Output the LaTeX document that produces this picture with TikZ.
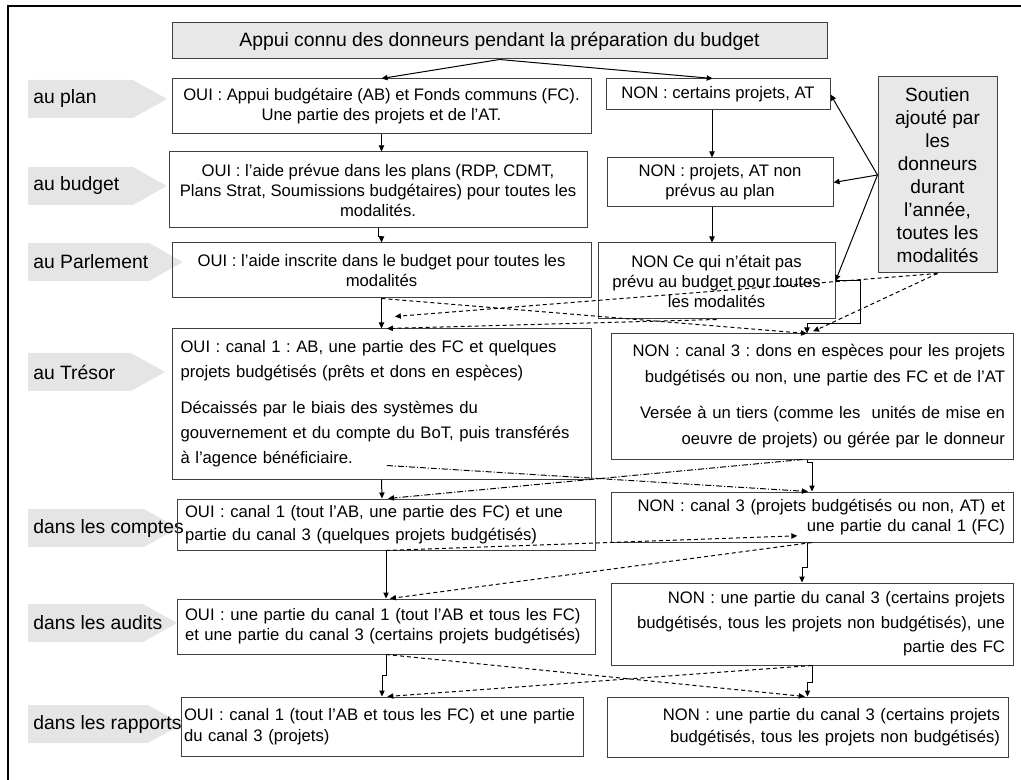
\documentclass[tikz,border=0pt]{standalone}
\usepackage{fontspec}
\setmainfont{Liberation Sans}
\usetikzlibrary{arrows.meta,positioning}
\frenchspacing

\begin{document}
\begin{tikzpicture}[
  x=0.75pt, y=-0.75pt,
  box/.style={rectangle, draw=black!75, line width=0.75pt, inner sep=0pt, align=center, font=\fontsize{12.5}{15}\selectfont},
  size/.style 2 args={minimum width=#1*0.75pt, minimum height=#2*0.75pt},
  grey box/.style={box, fill=black!9},
  oui/.style={box, align=left, text width=301.5pt},
  non/.style={box, align=right, text width=289.5pt},
  stage/.style={anchor=west, inner sep=0pt, font=\fontsize{14.5}{17}\selectfont},
  stage fill/.style={fill=black!10},
  arrow/.style={-{Triangle[length=4.5pt,width=4pt]}, line width=0.75pt},
  dash arrow/.style={arrow, dash pattern=on 3pt off 2.25pt},
  dot arrow/.style={arrow, dash pattern=on 4.5pt off 1.5pt on 0.75pt off 1.5pt}
]
\useasboundingbox (0,0) rectangle (1021,780);

% Frame: top and left only
\draw[line width=1.5pt] (1021,6) -- (8,6) -- (8,780);

% Stage labels on the left
\foreach \y/\tip/\name/\txt in {99/167/lplan/au plan, 186/167/lbudget/au budget,
    262/183/lparl/au Parlement, 372/165/ltresor/au Trésor, 528/178/lcomptes/dans les comptes,
    623/177/laudits/dans les audits, 724/182/lrapports/dans les rapports}
{
  \fill[stage fill] (28,\y-19) -- (\tip-34,\y-19) -- (\tip,\y) -- (\tip-34,\y+19) -- (28,\y+19) -- cycle;
  \node[stage] (\name) at (33,\y) {\txt};
}

% Top node
\node[grey box, size={655}{36}, font=\fontsize{14.5}{17}\selectfont] (title) at (499.5,41)
  {Appui connu des donneurs pendant la préparation du budget};

% Plan
\node[box, size={419}{55}] (ouiPlan) at (381.5,106.5) {
  OUI : Appui budgétaire (AB) et Fonds communs (FC).\\
  Une partie des projets et de l’AT.
};
\node[box, size={224}{31}] (nonPlan) at (718,94.5) {NON : certains projets, AT};

% Budget
\node[box, size={418}{76}] (ouiBudget) at (378,190) {
  OUI : l’aide prévue dans les plans (RDP, CDMT,\\
  Plans Strat, Soumissions budgétaires) pour toutes les\\
  modalités.
};
\node[box, size={226}{49}] (nonBudget) at (720,182.5) {NON : projets, AT non\\ prévus au plan};

% Parlement
\node[box, size={419}{55}] (ouiParl) at (381.5,270.5) {
  OUI : l’aide inscrite dans le budget pour toutes les\\
  modalités
};
\node[box, size={237}{76}] (nonParl) at (716.5,281) {
  NON Ce qui n’était pas\\
  prévu au budget pour toutes\\
  les modalités
};

% Support added during the year
\node[grey box, size={119}{196}, font=\fontsize{14.3}{17.2}\selectfont] (soutien) at (937.5,175) {
  Soutien\\ ajouté par\\ les\\ donneurs\\ durant\\ l’année,\\ toutes les\\ modalités
};

% Tresor
\node[oui, size={419}{150}, font=\fontsize{12.5}{18.75}\selectfont] (ouiTresor) at (381.5,404) {
  OUI : canal 1 : AB, une partie des FC et quelques\\
  projets budgétisés (prêts et dons en espèces)\\[8pt]
  Décaissés par le biais des systèmes du\\
  gouvernement et du compte du BoT, puis transférés\\
  à l’agence bénéficiaire.
};
\node[non, size={402}{125}, font=\fontsize{12.5}{19.5}\selectfont] (nonTresor) at (812,396.5) {
  NON : canal 3 : dons en espèces pour les projets\\
  budgétisés ou non, une partie des FC et de l’AT\\[7.5pt]
  Versée à un tiers (comme les\ \ unités de mise en\\
  oeuvre de projets) ou gérée par le donneur
};

% Comptes
\node[oui, size={418}{51}, font=\fontsize{12.5}{17}\selectfont] (ouiComptes) at (386,524.5) {
  OUI : canal 1 (tout l’AB, une partie des FC) et une\\
  partie du canal 3 (quelques projets budgétisés)
};
\node[non, size={402}{50}] (nonComptes) at (812,517) {
  NON : canal 3 (projets budgétisés ou non, AT) et\\
  une partie du canal 1 (FC)
};

% Audits
\node[oui, size={418}{55}] (ouiAudits) at (386,626.5) {
  OUI : une partie du canal 1 (tout l’AB et tous les FC)\\
  et une partie du canal 3 (certains projets budgétisés)
};
\node[non, size={402}{82}, font=\fontsize{12.5}{18.4}\selectfont] (nonAudits) at (812,624) {
  NON : une partie du canal 3 (certains projets\\
  budgétisés, tous les projets non budgétisés), une\\
  partie des FC
};

% Rapports
\node[oui, size={402}{59}, text width=297pt, font=\fontsize{12.5}{16}\selectfont] (ouiRapports) at (382,726.5) {
  OUI : canal 1 (tout l’AB et tous les FC) et une partie\\
  du canal 3 (projets)
};
\node[non, size={401}{60}, text width=288.75pt, font=\fontsize{12.5}{16.5}\selectfont] (nonRapports) at (807.5,727) {
  NON : une partie du canal 3 (certains projets\\
  budgétisés, tous les projets non budgétisés)
};

% Arrows from the top node
\draw[arrow] (title.south) -- (ouiPlan.north);
\draw[arrow] (title.south) -- ([xshift=-4pt]nonPlan.north);

% OUI column
\draw[arrow] (ouiPlan.south) -- (ouiPlan.south |- ouiBudget.north);
\draw[arrow] (ouiBudget.south) -- ++(0,8) -| (ouiParl.north);
\draw[arrow] (ouiParl.south) -- (ouiTresor.north);
\draw[arrow] (ouiTresor.south) -- ([xshift=-3pt]ouiComptes.north);
\draw[arrow] (ouiComptes.south) -- (ouiAudits.north);
\draw[arrow] (ouiAudits.south) -- ++(0,21) -| (ouiRapports.north);

% NON column
\draw[arrow] ([xshift=-4.5pt]nonPlan.south) -- ([xshift=-4.5pt]nonPlan.south |- nonBudget.north);
\draw[arrow] ([xshift=-4.5pt]nonPlan.south |- nonBudget.south) -- ([xshift=-4.5pt]nonPlan.south |- nonParl.north);
\draw[arrow] (nonParl.east) -- ++(25,0) -- ++(0,43) -| ([xshift=-3.75pt]nonTresor.north);
\draw[arrow] ([xshift=-3.75pt]nonTresor.south) -- ++(0,3) -| (nonComptes.north);
\draw[arrow] ([xshift=-3.75pt]nonComptes.south) -- ++(0,25) -| ([xshift=-7.5pt]nonAudits.north);
\draw[arrow] (nonAudits.south) -- ++(0,17) -| (nonRapports.north);

% Support added by the donors
\draw[arrow] (soutien.west) -- (nonPlan.east);
\draw[arrow] (soutien.west) -- (nonBudget.east);
\draw[arrow] (soutien.west) -- (nonParl.east);

% Crossing flows
\draw[dash arrow] (ouiParl.south) -- ([xshift=-3.75pt]nonTresor.north);
\draw[dash arrow] (soutien.south) -- ([xshift=0.75pt,yshift=1.5pt]nonTresor.north);
\draw[dash arrow] (soutien.south) -- ([xshift=10pt,yshift=9pt]ouiTresor.north);
\draw[dash arrow] (nonParl.south) -- ([xshift=4pt]ouiTresor.north);

\draw[dot arrow] ([xshift=4pt,yshift=10.5pt]ouiTresor.south) -- ([xshift=-3pt]nonComptes.north);
\draw[dot arrow] ([xshift=-7pt]nonTresor.south) -- ([xshift=1.5pt]ouiComptes.north);

\draw[dash arrow] (ouiComptes.south) -- ([xshift=-11pt,yshift=5pt]nonComptes.south);
\draw[dash arrow] (nonComptes.south) -- ([xshift=3pt]ouiAudits.north);
\draw[dash arrow] (ouiAudits.south) -- ([xshift=-2pt]nonRapports.north);
\draw[dash arrow] (nonAudits.south) -- ([xshift=4pt]ouiRapports.north);

\end{tikzpicture}
\end{document}
